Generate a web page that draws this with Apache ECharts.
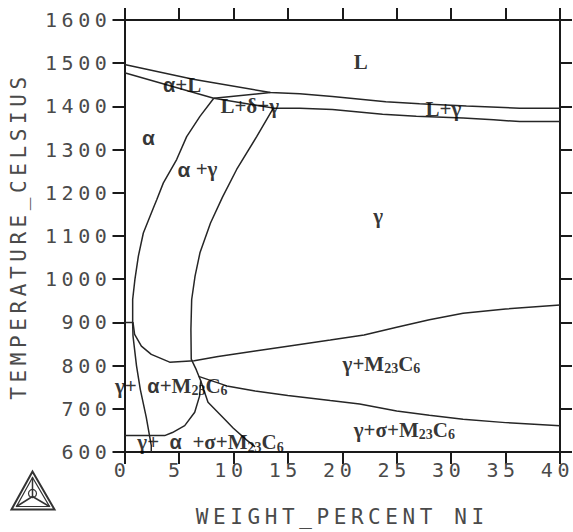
<!DOCTYPE html>
<html>
<head>
<meta charset="utf-8">
<script src="https://cdn.jsdelivr.net/npm/echarts@6/dist/echarts.min.js"></script>
<style>
html,body{margin:0;padding:0;background:#fff;}
#chart{width:573px;height:532px;}
#chart text[style*="DejaVu Sans Mono"]{letter-spacing:4.6px;}
</style>
</head>
<body>
<div id="chart"></div>
<script>
// ---- axis ticks ----
const xTicks = [0,5,10,15,20,25,30,35,40];
const yTicks = [600,700,800,900,1000,1100,1200,1300,1400,1500,1600];
const xTitle = 'WEIGHT_PERCENT NI';
const yTitle = 'TEMPERATURE_CELSIUS';

// ---- phase boundaries [wt% Ni, T celsius] ----
const liquidus = [[0,1497],[6.3,1463],[13.4,1432],[16.1,1429],[19.1,1423],[24,1411],[27.1,1406],[31.4,1401],[36.3,1396],[40,1396]];
const alphaSolidus = [[0,1478],[8.2,1419]];
const deltaTie = [[8.2,1419],[13.4,1432]];
const triangleBase = [[8.2,1419],[13.7,1396]];
const gammaSolidus = [[13.7,1396],[16.1,1396],[19.1,1393],[23.7,1382],[26.8,1377],[31.1,1373],[33.9,1369],[36.3,1365],[40,1365]];
const alphaBoundary = [[8.2,1419],[6.93,1377],[5.71,1330],[4.79,1277],[3.57,1223],[2.96,1184],[2.65,1165],[1.73,1107],[1.27,1053],[0.96,1000],[0.75,953],[0.75,896],[0.78,869],[1.1,800],[1.45,745],[2.0,680],[2.46,615],[2.46,600]];
const gammaBoundary = [[13.67,1396],[12.14,1330],[10.3,1254],[9.0,1190],[7.9,1130],[6.93,1061],[6.48,1007],[6.17,953],[6.1,884],[6.13,815],[6.6,790],[7.0,765],[6.9,730],[6.45,692],[5.53,661],[4.4,645],[3.69,638],[0,638]];
const carbideBoundary = [[0,900],[0.78,900],[0.93,872],[1.55,845],[2.46,826],[4.15,808],[6.4,811],[8.6,821],[12,834],[15,845],[18.9,859],[22,871],[25,889],[28,906],[31.1,921],[35,931],[40,940]];
const sigmaBoundary = [[6.8,775],[9.4,753],[12,741],[15,731],[18.9,719],[21.6,711],[25,695],[28,685],[31.1,676],[35,668],[40,661]];
const sigmaAlphaBoundary = [[7.0,765],[7.67,715],[9.2,676],[10,655],[11.2,628],[12,612]];

// ---- region labels [wt% Ni, T, text] ----
const regionLabels = [
  [21.7,1503,'L'],
  [5.3,1450,'{a|α}+L'],
  [11.5,1400,'L+δ+γ'],
  [29.3,1393,'L+γ'],
  [2.2,1327,'{ab|α}'],
  [6.7,1255,'{ab|α} +γ'],
  [23.3,1147,'γ'],
  [23.6,804,'γ+M{s|23}C{s|6}'],
  [25.7,651,'γ+σ+M{s|23}C{s|6}'],
  [4.3,753,'γ+  {a|α}+M{s|23}C{s|6}'],
  [7.9,622,'γ+  {a|α}  +σ+M{s|23}C{s|6}']
];

const lineColor = '#262626';
const boundaries = [liquidus, alphaSolidus, deltaTie, triangleBase, gammaSolidus, alphaBoundary, gammaBoundary, carbideBoundary, sigmaBoundary, sigmaAlphaBoundary];

const chart = echarts.init(document.getElementById('chart'), null, {renderer:'svg'});
const monoFont = 'DejaVu Sans Mono';
const axisLineStyle = {color:'#1a1a1a', width:2};

const series = boundaries.map(d => ({
  type:'line', data:d, showSymbol:false, symbol:'none', silent:true,
  lineStyle:{color:lineColor, width:1.5}, z:3, animation:false
}));
series.push({
  type:'scatter', symbolSize:0, silent:true, animation:false, z:5,
  data: regionLabels.map(r => ({value:[r[0], r[1]], name:r[2]})),
  label:{
    show:true, position:'inside', formatter: p => p.name,
    fontFamily:'Liberation Serif', fontWeight:'bold', fontSize:21, color:'#000',
    rich:{
      a:{fontFamily:'Liberation Sans', fontWeight:'bold', fontSize:20, color:'#000'},
      ab:{fontFamily:'Liberation Sans', fontWeight:'bold', fontSize:21, color:'#000'},
      s:{fontFamily:'Liberation Serif', fontWeight:'bold', fontSize:14, color:'#000', padding:[10,0,0,0]}
    }
  }
});

chart.setOption({
  animation:false,
  backgroundColor:'#fff',
  grid:{left:124.5, right:13, top:20, bottom:79, containLabel:false},
  xAxis:[{
    type:'value', min:0, max:40, interval:5, position:'bottom',
    axisLine:{show:true, onZero:false, lineStyle:axisLineStyle},
    axisTick:{show:true, length:12, lineStyle:axisLineStyle},
    axisLabel:{show:true, margin:8, fontFamily:monoFont, fontSize:20, color:'#4a4a4a', padding:[0,5,0,0],
      formatter: v => String(xTicks[xTicks.indexOf(v)])},
    splitLine:{show:false},
    name:xTitle, nameLocation:'middle', nameGap:54,
    nameTextStyle:{fontFamily:monoFont, fontSize:21, color:'#4a4a4a'}
  },{
    type:'value', min:0, max:40, interval:5, position:'top',
    axisLine:{show:true, onZero:false, lineStyle:axisLineStyle},
    axisTick:{show:true, length:12, lineStyle:axisLineStyle},
    axisLabel:{show:false}, splitLine:{show:false}
  }],
  yAxis:[{
    type:'value', min:600, max:1600, interval:100, position:'left',
    axisLine:{show:true, onZero:false, lineStyle:axisLineStyle},
    axisTick:{show:true, length:12, lineStyle:axisLineStyle},
    axisLabel:{show:true, margin:13, fontFamily:monoFont, fontSize:20, color:'#4a4a4a',
      formatter: v => String(yTicks[yTicks.indexOf(v)])},
    splitLine:{show:false},
    name:yTitle, nameLocation:'middle', nameGap:95,
    nameTextStyle:{fontFamily:monoFont, fontSize:21, color:'#4a4a4a'}
  },{
    type:'value', min:600, max:1600, interval:100, position:'right',
    axisLine:{show:true, onZero:false, lineStyle:axisLineStyle},
    axisTick:{show:true, length:12, lineStyle:axisLineStyle},
    axisLabel:{show:false}, splitLine:{show:false}
  }],
  graphic:[{
    type:'group', left:9, top:469, silent:true,
    children:[
      {type:'polygon', shape:{points:[[21,0],[0,38],[43,38]]}, style:{fill:'none', stroke:'#333', lineWidth:2}},
      {type:'polygon', shape:{points:[[21,6],[5,35],[38,35]]}, style:{fill:'none', stroke:'#333', lineWidth:1.2}},
      {type:'polyline', shape:{points:[[21,6],[21,25],[5,35]]}, style:{fill:'none', stroke:'#333', lineWidth:1.5}},
      {type:'polyline', shape:{points:[[21,25],[38,35]]}, style:{fill:'none', stroke:'#333', lineWidth:1.5}},
      {type:'circle', shape:{cx:21, cy:22, r:4}, style:{fill:'none', stroke:'#333', lineWidth:1.2}}
    ]
  }],
  series: series
});
</script>
</body>
</html>
